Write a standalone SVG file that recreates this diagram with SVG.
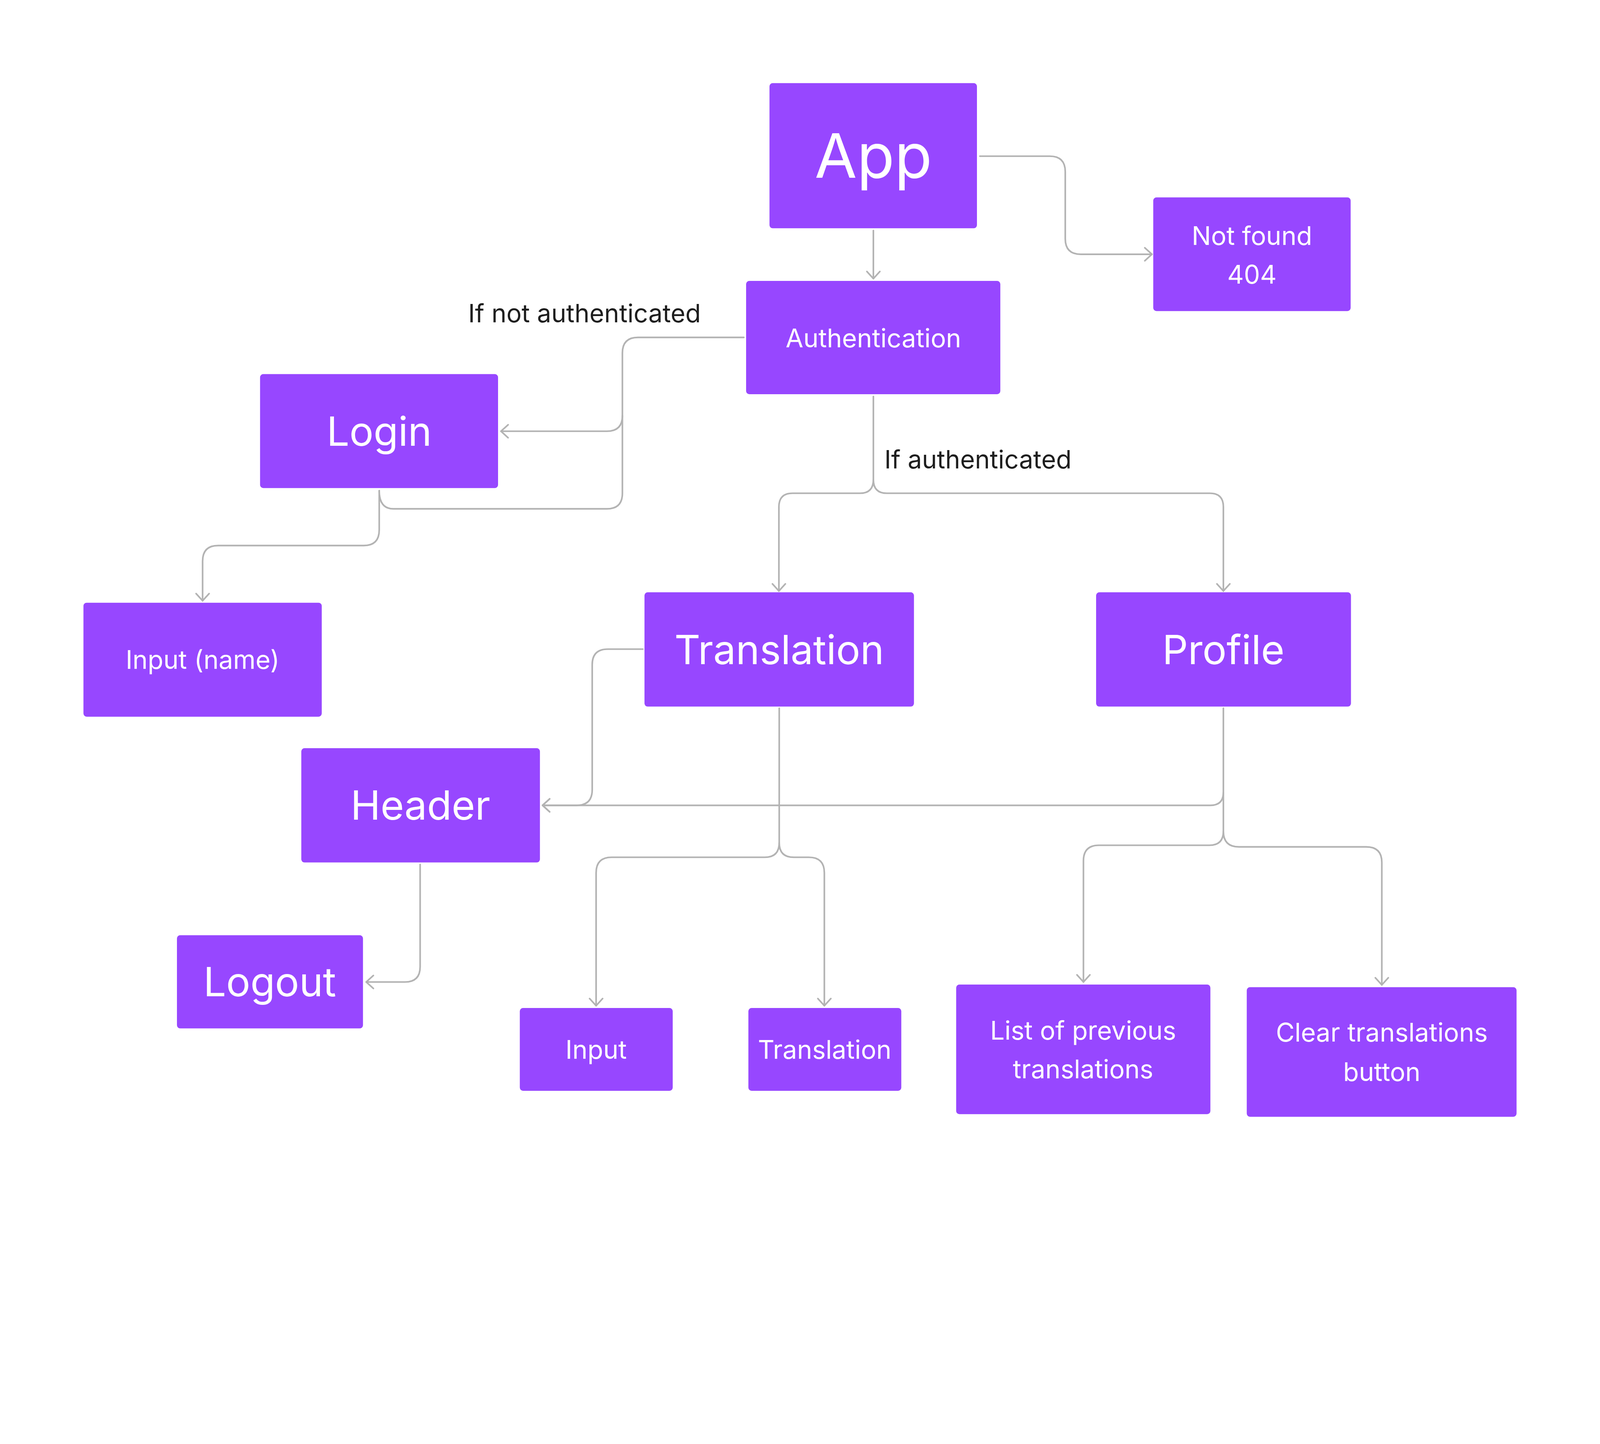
<svg xmlns="http://www.w3.org/2000/svg" width="4928" height="3696" viewBox="0 0 4928 3696" preserveAspectRatio="xMidYMin meet">
<defs>
<style>
svg{width:100vw;height:100vh;}
.box{fill:#9747FF;}
.t{fill:#FFFFFF;font-family:Inter,"Noto Sans","Liberation Sans",sans-serif;text-anchor:middle;}
.s{font-size:79px;}
.m{font-size:124px;}
.l{font-size:189px;}
.lbl{fill:#1E1E1E;font-family:Inter,"Noto Sans","Liberation Sans",sans-serif;font-size:78px;}
.c{fill:none;stroke:#B3B3B3;stroke-width:5;stroke-linecap:round;stroke-linejoin:round;}
</style>
<marker id="arr" markerUnits="userSpaceOnUse" markerWidth="40" markerHeight="50" refX="26" refY="24" orient="auto" overflow="visible">
<path d="M4,4 L26,24 L4,44" fill="none" stroke="#B3B3B3" stroke-width="5" stroke-linecap="round" stroke-linejoin="round"/>
</marker>
</defs>
<rect x="0" y="0" width="4928" height="3696" fill="#FFFFFF"/>
<g id="connectors">
<path class="c" d="M2690,710 V858" marker-end="url(#arr)"/>
<path class="c" d="M3018,481 H3233 Q3281,481 3281,529 V735 Q3281,783 3329,783 H3548" marker-end="url(#arr)"/>
<path class="c" d="M2291,1039 H1965 Q1917,1039 1917,1087 V1280 Q1917,1328 1869,1328 H1543" marker-end="url(#arr)"/>
<path class="c" d="M1168,1511 Q1168,1567 1212,1567 H1869 Q1917,1567 1917,1519 V1280"/>
<path class="c" d="M1168,1511 V1632 Q1168,1680 1120,1680 H672 Q624,1680 624,1728 V1850" marker-end="url(#arr)"/>
<path class="c" d="M2690,1221 V1477 Q2690,1519 2648,1519 H2441 Q2399,1519 2399,1561 V1820" marker-end="url(#arr)"/>
<path class="c" d="M2690,1477 Q2690,1519 2732,1519 H3726 Q3768,1519 3768,1561 V1820" marker-end="url(#arr)"/>
<path class="c" d="M1980,1999 H1872 Q1824,1999 1824,2047 V2432 Q1824,2480 1776,2480 H1671" marker-end="url(#arr)"/>
<path class="c" d="M3768,2181 V2440 Q3768,2480 3728,2480 H1671" marker-end="url(#arr)"/>
<path class="c" d="M3768,2440 V2560 Q3768,2603 3725,2603 H3385 Q3337,2603 3337,2651 V3024" marker-end="url(#arr)"/>
<path class="c" d="M3768,2560 Q3768,2608 3816,2608 H4208 Q4256,2608 4256,2656 V3033" marker-end="url(#arr)"/>
<path class="c" d="M2400,2181 V2595 Q2400,2640 2355,2640 H1884 Q1836,2640 1836,2688 V3097" marker-end="url(#arr)"/>
<path class="c" d="M2400,2595 Q2400,2640 2445,2640 H2491 Q2539,2640 2539,2688 V3097" marker-end="url(#arr)"/>
<path class="c" d="M1294,2662 V2977 Q1294,3024 1247,3024 H1128" marker-end="url(#arr)"/>
</g>
<text class="lbl" x="1442" y="993">If not authenticated</text>
<text class="lbl" x="2724" y="1443">If authenticated</text>
<g id="app"><rect class="box" x="2370" y="256" width="639" height="447" rx="10"/><text class="t l" x="2690" y="548">App</text></g>
<g id="notfound"><rect class="box" x="3552" y="608" width="608" height="350" rx="10"/><text class="t s" x="3856" y="754">Not found</text><text class="t s" x="3856" y="874">404</text></g>
<g id="authentication"><rect class="box" x="2298" y="865" width="783" height="349" rx="10"/><text class="t s" x="2690" y="1069">Authentication</text></g>
<g id="login"><rect class="box" x="801" y="1152" width="733" height="351" rx="10"/><text class="t m" x="1168" y="1373">Login</text></g>
<g id="inputname"><rect class="box" x="257" y="1856" width="734" height="351" rx="10"/><text class="t s" x="624" y="2060">Input (name)</text></g>
<g id="translation"><rect class="box" x="1985" y="1824" width="830" height="352" rx="10"/><text class="t m" x="2400" y="2045">Translation</text></g>
<g id="profile"><rect class="box" x="3376" y="1824" width="785" height="352" rx="10"/><text class="t m" x="3768" y="2045">Profile</text></g>
<g id="header"><rect class="box" x="928" y="2304" width="735" height="352" rx="10"/><text class="t m" x="1295" y="2524">Header</text></g>
<g id="logout"><rect class="box" x="545" y="2880" width="573" height="287" rx="10"/><text class="t m" x="831" y="3068">Logout</text></g>
<g id="input"><rect class="box" x="1601" y="3104" width="471" height="255" rx="10"/><text class="t s" x="1836" y="3260">Input</text></g>
<g id="translation-out"><rect class="box" x="2305" y="3104" width="471" height="255" rx="10"/><text class="t s" x="2540" y="3260">Translation</text></g>
<g id="list"><rect class="box" x="2945" y="3032" width="783" height="399" rx="10"/><text class="t s" x="3336" y="3202">List of previous</text><text class="t s" x="3336" y="3321">translations</text></g>
<g id="clear"><rect class="box" x="3840" y="3040" width="831" height="399" rx="10"/><text class="t s" x="4256" y="3208">Clear translations</text><text class="t s" x="4256" y="3329">button</text></g>
</svg>
